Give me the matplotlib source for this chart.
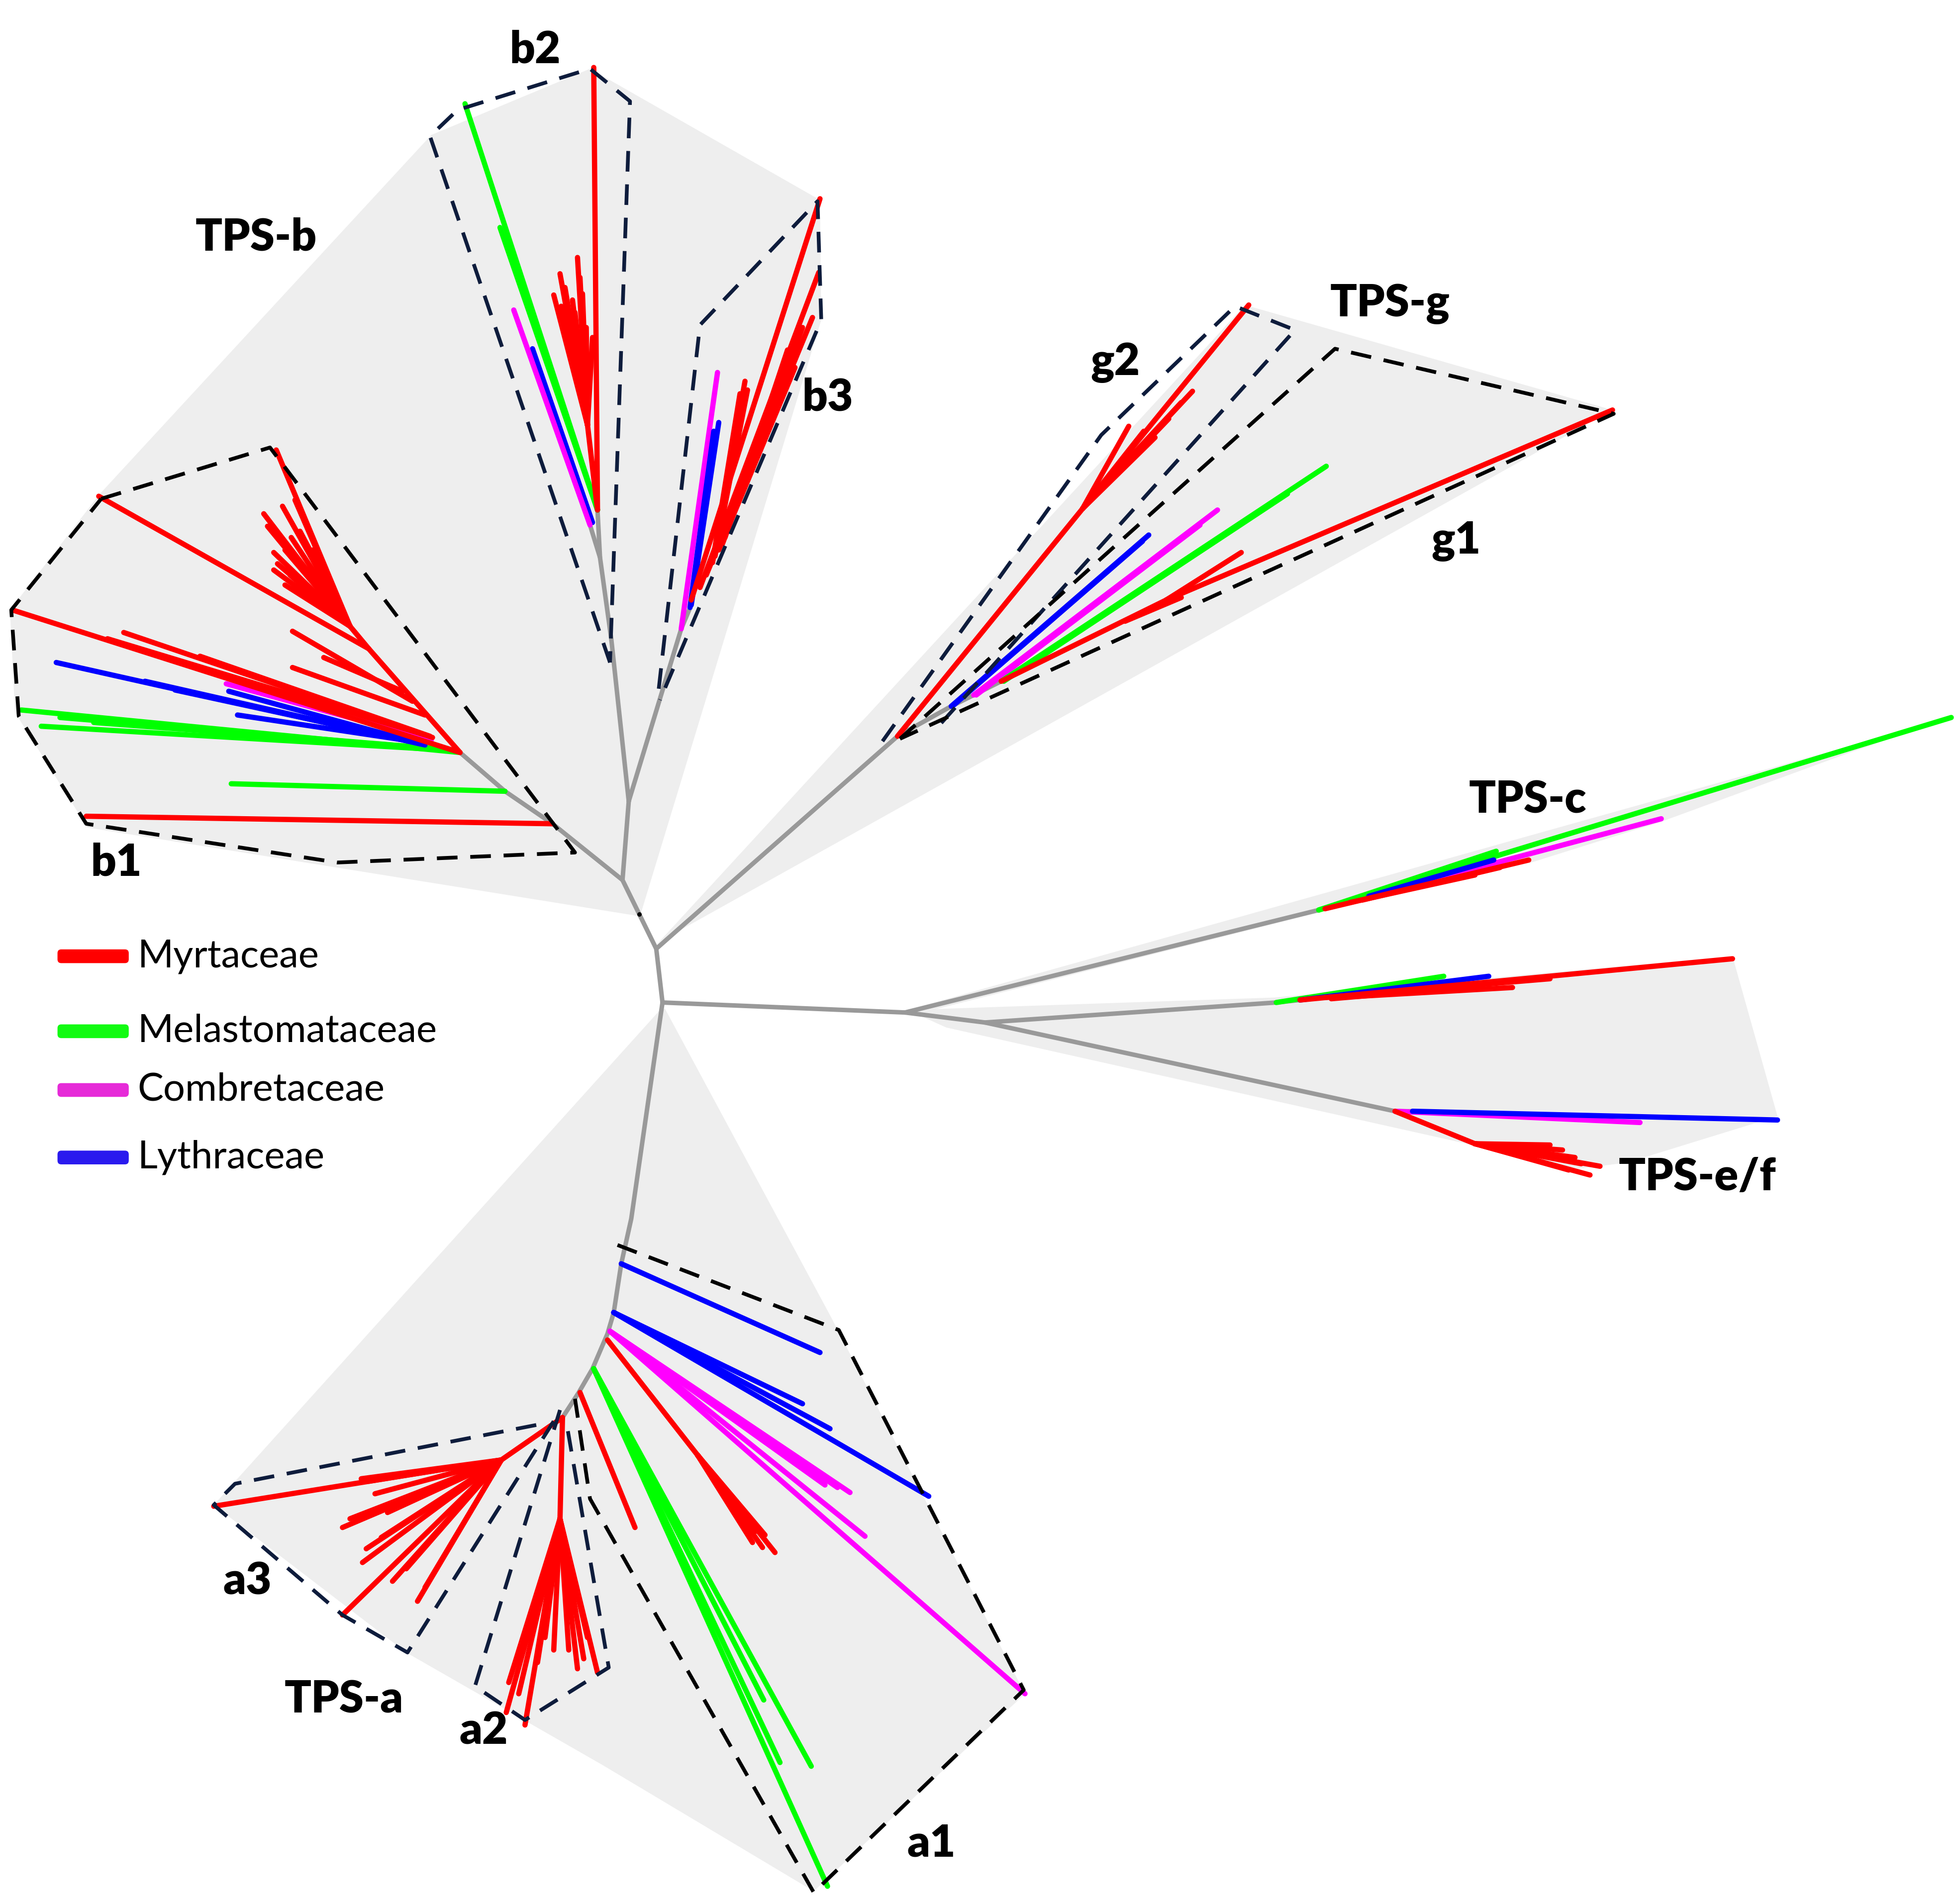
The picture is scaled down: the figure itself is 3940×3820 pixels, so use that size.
import matplotlib
matplotlib.use("Agg")
import matplotlib.pyplot as plt
from matplotlib.patches import Polygon, FancyBboxPatch

# all coordinates are in units of the reference layout (1568 x 1520), y grows downward
W, H = 1568, 1520
PT = 3940 / W * 0.72  # points per layout unit

families = ["Myrtaceae", "Melastomataceae", "Combretaceae", "Lythraceae"]
tree_colors = ["#ff0000", "#00ff00", "#ff00ff", "#0000ff"]
legend_colors = ["#ff0000", "#12fb12", "#e62ad8", "#2a1aee"]
legend_y = [765, 825, 872, 926]

# grey internal branches (polylines)
backbone = [
    [(530, 802), (525, 759), (498, 704), (503, 641)],
    [(525, 759), (718, 589), (761, 565), (779, 556), (801, 545)],
    [(530, 802), (724, 810), (1055, 728), (1100, 716)],
    [(724, 810), (788, 818), (1021, 802), (1040, 800)],
    [(788, 818), (1116, 889), (1130, 889)],
    [(530, 802), (505, 975), (497, 1011), (491, 1050), (486, 1067), (474, 1095),
     (463, 1114), (450, 1134)],
    [(498, 704), (442, 659), (404, 633), (368, 602)],
    [(503, 641), (489, 511), (480, 446), (478, 408)],
    [(480, 446), (472, 420)],
    [(503, 641), (545, 503), (553, 484)],
]

# leaf / terminal branches: (x0, y0, x1, y1, family index)
clade_b1 = [
    (442, 659, 69, 653, 0),
    (404, 633, 185, 627, 1),
    (368, 602, 17, 568, 1), (356, 600, 33, 581, 1), (350, 599, 48, 574, 1),
    (352, 599, 75, 578, 1),
    (340, 596, 45, 530, 3), (336, 595, 116, 545, 3), (333, 594, 183, 553, 3),
    (330, 593, 190, 572, 3), (338, 595, 140, 552, 3),
    (345, 592, 181, 547, 2),
    (368, 602, 10, 488, 0), (346, 590, 99, 506, 0), (340, 588, 86, 511, 0),
    (344, 589, 160, 525, 0),
    (368, 602, 295, 519, 0), (295, 519, 79, 397, 0), (295, 519, 280, 501, 0),
    (280, 501, 221, 360, 0), (280, 501, 211, 411, 0), (280, 501, 214, 421, 0),
    (280, 501, 219, 442, 0), (280, 501, 222, 451, 0), (280, 501, 219, 456, 0),
    (280, 501, 228, 468, 0), (280, 501, 233, 430, 0), (280, 501, 240, 425, 0),
    (280, 501, 228, 440, 0), (280, 501, 236, 400, 0), (280, 501, 226, 405, 0),
    (280, 501, 245, 455, 0), (280, 501, 232, 460, 0), (280, 501, 250, 440, 0),
    (330, 561, 234, 505, 0), (322, 553, 259, 526, 0), (340, 572, 234, 534, 0),
]
clade_b2 = [
    (478, 408, 475, 54, 0),
    (478, 408, 372, 83, 1), (478, 408, 400, 182, 1),
    (474, 418, 426, 279, 3),
    (472, 420, 411, 248, 2),
    (478, 408, 470, 340, 0),
    (470, 340, 462, 206, 0), (470, 340, 448, 219, 0), (470, 340, 443, 236, 0),
    (470, 340, 452, 230, 0), (470, 340, 458, 240, 0), (470, 340, 466, 235, 0),
    (470, 340, 469, 262, 0), (470, 340, 460, 250, 0), (470, 340, 455, 260, 0),
    (470, 340, 449, 245, 0), (470, 340, 464, 222, 0), (470, 340, 474, 270, 0),
]
clade_b3 = [
    (545, 503, 574, 298, 2),
    (553, 484, 575, 338, 3), (552, 486, 571, 345, 3),
    (553, 480, 656, 159, 0), (560, 470, 655, 218, 0), (565, 460, 650, 254, 0),
    (575, 440, 636, 294, 0), (570, 450, 596, 305, 0), (570, 450, 592, 315, 0),
    (580, 430, 630, 280, 0), (578, 435, 642, 262, 0), (572, 445, 598, 312, 0),
]
clade_g = [
    (718, 589, 866, 407, 0), (866, 407, 999, 244, 0),
    (866, 407, 954, 313, 0), (866, 407, 924, 350, 0), (866, 407, 903, 341, 0),
    (866, 407, 935, 335, 0), (866, 407, 945, 322, 0), (866, 407, 915, 345, 0),
    (761, 565, 919, 428, 3), (763, 564, 914, 433, 3),
    (779, 556, 974, 408, 2), (781, 556, 960, 420, 2),
    (801, 545, 1061, 373, 1), (803, 545, 1030, 395, 1),
    (801, 545, 933, 480, 0), (933, 480, 1290, 328, 0), (933, 480, 993, 442, 0),
    (933, 480, 950, 470, 0), (900, 497, 945, 478, 0),
]
clade_c = [
    (1055, 728, 1561, 574, 1), (1055, 728, 1197, 681, 1),
    (1100, 716, 1329, 655, 2),
    (1095, 717, 1195, 688, 3),
    (1060, 727, 1223, 688, 0), (1080, 722, 1180, 700, 0), (1090, 720, 1200, 694, 0),
]
clade_e = [
    (1021, 802, 1155, 781, 1),
    (1040, 800, 1191, 781, 3),
    (1040, 800, 1386, 767, 0), (1060, 798, 1240, 783, 0), (1070, 798, 1210, 790, 0),
    (1065, 799, 1170, 790, 0),
]
clade_f = [
    (1116, 889, 1312, 898, 2),
    (1130, 889, 1422, 896, 3),
    (1116, 889, 1180, 915, 0), (1180, 915, 1272, 940, 0), (1180, 915, 1280, 933, 0),
    (1180, 915, 1250, 920, 0), (1180, 915, 1260, 926, 0), (1180, 915, 1265, 931, 0),
    (1180, 915, 1240, 916, 0), (1180, 915, 1255, 936, 0), (1180, 915, 1235, 925, 0),
]
clade_a1 = [
    (497, 1011, 656, 1082, 3),
    (491, 1050, 743, 1197, 3), (491, 1050, 642, 1123, 3), (491, 1050, 664, 1143, 3),
    (488, 1065, 820, 1355, 2), (488, 1065, 680, 1194, 2), (488, 1065, 692, 1229, 2),
    (488, 1065, 660, 1188, 2), (488, 1065, 670, 1190, 2), (488, 1065, 650, 1175, 2),
    (486, 1072, 558, 1164, 0), (558, 1164, 620, 1242, 0), (558, 1164, 602, 1234, 0),
    (558, 1164, 610, 1238, 0), (558, 1164, 605, 1225, 0), (558, 1164, 595, 1215, 0),
    (558, 1164, 612, 1228, 0),
    (475, 1095, 662, 1509, 1), (475, 1095, 649, 1413, 1), (475, 1095, 624, 1410, 1),
    (475, 1095, 611, 1360, 1),
    (464, 1114, 508, 1222, 0),
]
clade_a2 = [
    (450, 1134, 448, 1215, 0),
    (448, 1215, 405, 1370, 0), (448, 1215, 420, 1380, 0), (448, 1215, 478, 1338, 0),
    (448, 1215, 467, 1327, 0), (448, 1215, 443, 1320, 0), (448, 1215, 407, 1346, 0),
    (448, 1215, 455, 1320, 0), (448, 1215, 470, 1310, 0), (448, 1215, 430, 1330, 0),
    (448, 1215, 415, 1355, 0), (448, 1215, 462, 1335, 0), (448, 1215, 436, 1310, 0),
]
clade_a3 = [
    (450, 1134, 401, 1168, 0),
    (401, 1168, 171, 1205, 0), (401, 1168, 274, 1292, 0), (401, 1168, 289, 1183, 0),
    (401, 1168, 274, 1222, 0), (401, 1168, 293, 1239, 0), (401, 1168, 314, 1265, 0),
    (401, 1168, 334, 1281, 0), (401, 1168, 300, 1195, 0), (401, 1168, 320, 1205, 0),
    (401, 1168, 290, 1250, 0), (401, 1168, 340, 1270, 0), (401, 1168, 305, 1230, 0),
    (401, 1168, 295, 1185, 0), (401, 1168, 280, 1215, 0), (401, 1168, 325, 1255, 0),
    (401, 1168, 310, 1210, 0), (401, 1168, 345, 1262, 0),
]

# light grey clade areas
shade_b = [(512, 733), (70, 662), (12, 570), (8, 488), (80, 395), (345, 108), (472, 55),
           (656, 160), (657, 256)]
shade_g = [(525, 756), (996, 244), (1290, 328), (530, 752)]
shade_c = [(726, 808), (1561, 574), (1480, 602), (1330, 657), (1225, 690), (1055, 730),
           (730, 812)]
shade_ef = [(726, 808), (1020, 798), (1386, 765), (1422, 893), (1302, 930), (1263, 935),
            (757, 822)]
shade_a = [(528, 808), (171, 1204), (325, 1322), (482, 1412), (651, 1513), (820, 1355),
           (665, 1054), (532, 807)]

# dashed subclade outlines
outline_b1 = [(81, 399), (216, 358), (460, 682), (270, 690), (69, 659), (15, 573), (9, 488),
              (81, 399)]
outline_b2 = [(488, 530), (344, 109), (366, 88), (472, 55), (504, 81), (488, 530)]
outline_b3 = [(527, 551), (560, 260), (654, 161), (657, 256), (528, 560)]
outline_g2 = [(706, 593), (881, 348), (988, 245), (1036, 264), (748, 584)]
outline_g1 = [(720, 591), (1068, 279), (1291, 331), (720, 591)]
outline_a1 = [(494, 996), (671, 1064), (819, 1352), (651, 1514), (472, 1199), (460, 1119)]
outline_a2 = [(448, 1128), (380, 1349), (420, 1376), (487, 1334), (454, 1143)]
outline_a3 = [(429, 1140), (188, 1187), (171, 1204), (274, 1292), (326, 1322), (448, 1129)]

labels = ["b2", "TPS-b", "b3", "g2", "TPS-g", "g1", "TPS-c", "TPS-e/f", "b1",
          "a3", "TPS-a", "a2", "a1"]
label_x = [428, 205, 662, 892, 1112, 1165, 1222, 1358, 93, 198, 275, 387, 745]
label_y = [40, 190, 318, 290, 243, 433, 640, 942, 690, 1265, 1360, 1385, 1475]

fig = plt.figure(figsize=(39.4, 38.2), dpi=100)
ax = fig.add_axes([0, 0, 1, 1])
ax.set_xlim(0, W)
ax.set_ylim(H, 0)
ax.axis("off")

for poly in [shade_b, shade_g, shade_c, shade_ef, shade_a]:
    ax.add_patch(Polygon(poly, closed=True, facecolor="#eeeeee", edgecolor="none", zorder=1))

for path in backbone:
    xs, ys = zip(*path)
    ax.plot(xs, ys, color="#999999", lw=3.6 * PT, solid_capstyle="round",
            solid_joinstyle="round", zorder=2)
ax.plot([511.4], [731.4], "o", color="black", ms=3.0 * PT, zorder=3)

for clade in [clade_b1, clade_b2, clade_b3, clade_g, clade_c, clade_e, clade_f,
              clade_a1, clade_a2, clade_a3]:
    for x0, y0, x1, y1, fam in clade:
        ax.plot([x0, x1], [y0, y1], color=tree_colors[fam], lw=4.2 * PT,
                solid_capstyle="round", zorder=3)

navy = "#0e1c3c"
for poly, col in [(outline_b1, "black"), (outline_b2, navy), (outline_b3, navy),
                  (outline_g2, navy), (outline_g1, "black"), (outline_a1, "black"),
                  (outline_a2, navy), (outline_a3, navy)]:
    xs, ys = zip(*poly)
    ax.plot(xs, ys, color=col, lw=3.0 * PT, dashes=(5.5, 3.4), zorder=4)

for txt, x, y in zip(labels, label_x, label_y):
    ax.text(x, y, txt, ha="center", va="center", fontsize=64, fontweight="heavy",
            family="Lato", zorder=5)

for name, col, y in zip(families, legend_colors, legend_y):
    ax.add_patch(FancyBboxPatch((46, y - 5.5), 57, 11, boxstyle="round,pad=0,rounding_size=3",
                                facecolor=col, edgecolor="none", zorder=5))
    ax.text(110, y, name, ha="left", va="center", fontsize=56, family="Lato", zorder=5)

fig.savefig("out.png", dpi=100)
